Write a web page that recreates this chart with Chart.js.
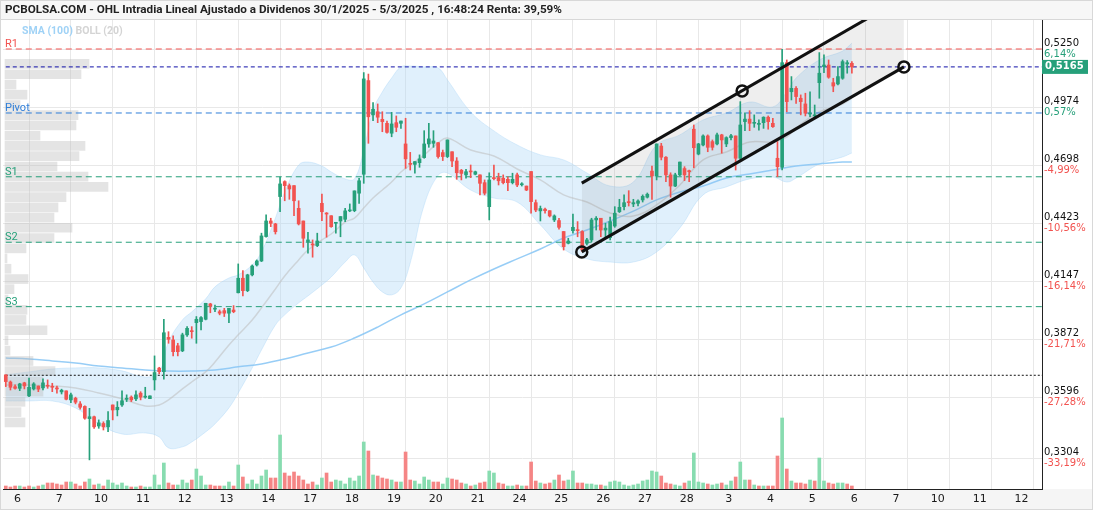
<!DOCTYPE html>
<html>
<head>
<meta charset="utf-8">
<title>OHL Intradia</title>
<script src="https://cdn.jsdelivr.net/npm/chart.js@4.4.1/dist/chart.umd.min.js"></script>
<style>
  html, body { margin: 0; padding: 0; background: #fff; }
  #wrap { width: 1096px; height: 512px; position: relative; }
</style>
</head>
<body>
<div id="wrap"><canvas id="chart"></canvas></div>
<script>
'use strict';

// day labels on the time axis (one per session, the last four are future days)
var dayLabels = ['6','7','10','11','12','13','14','17','18','19','20','21','24','25','26','27','28','3','4','5','6','7','10','11','12'];

// hourly candles
var opens = [
  0.3702,0.3668,0.3646,0.3638,0.3664,0.3602,0.3635,0.3649,0.3640,0.3651,
  0.3646,0.3640,0.3621,0.3626,0.3583,0.3591,0.3564,0.3552,0.3494,0.3503,
  0.3459,0.3471,0.3455,0.3559,0.3536,0.3559,0.3586,0.3596,0.3588,0.3615,
  0.3596,0.3589,0.3678,0.3734,0.3717,0.3880,0.3868,0.3840,0.3816,0.3892,
  0.3912,0.3950,0.3955,0.3966,0.4039,0.4014,0.4002,0.4007,0.3995,0.4010,
  0.4092,0.4161,0.4102,0.4177,0.4224,0.4243,0.4359,0.4433,0.4419,0.4549,
  0.4620,0.4601,0.4601,0.4493,0.4433,0.4335,0.4322,0.4316,0.4517,0.4470,
  0.4458,0.4422,0.4433,0.4441,0.4481,0.4482,0.4565,0.4655,0.5100,0.4937,
  0.4952,0.4916,0.4897,0.4850,0.4900,0.4897,0.4799,0.4704,0.4702,0.4710,
  0.4734,0.4799,0.4802,0.4805,0.4758,0.4739,0.4762,0.4718,0.4674,0.4652,
  0.4670,0.4655,0.4652,0.4615,0.4501,0.4639,0.4639,0.4636,0.4631,0.4615,
  0.4652,0.4605,0.4599,0.4668,0.4520,0.4481,0.4489,0.4482,0.4438,0.4435,
  0.4383,0.4327,0.4387,0.4390,0.4383,0.4327,0.4343,0.4438,0.4446,0.4390,
  0.4354,0.4409,0.4477,0.4501,0.4525,0.4514,0.4517,0.4533,0.4546,0.4670,
  0.4647,0.4789,0.4736,0.4652,0.4599,0.4652,0.4682,0.4672,0.4869,0.4751,
  0.4794,0.4837,0.4810,0.4799,0.4842,0.4799,0.4829,0.4837,0.4731,0.4905,
  0.4917,0.4897,0.4892,0.4900,0.4926,0.4897,0.4731,0.4688,0.5185,0.5047,
  0.5063,0.5016,0.4989,0.4941,0.4932,0.5090,0.5166,0.5174,0.5090,0.5084,
  0.5111,0.5179,0.5182
];
var highs = [
  0.3702,0.3673,0.3654,0.3662,0.3667,0.3687,0.3665,0.3649,0.3683,0.3678,
  0.3662,0.3649,0.3634,0.3626,0.3615,0.3596,0.3575,0.3555,0.3543,0.3506,
  0.3488,0.3479,0.3527,0.3559,0.3575,0.3626,0.3607,0.3602,0.3626,0.3622,
  0.3643,0.3602,0.3792,0.3738,0.3966,0.3907,0.3887,0.3852,0.3900,0.3931,
  0.3931,0.3979,0.3979,0.4042,0.4042,0.4034,0.4010,0.4018,0.4018,0.4031,
  0.4229,0.4197,0.4180,0.4224,0.4248,0.4375,0.4462,0.4446,0.4422,0.4641,
  0.4624,0.4609,0.4601,0.4529,0.4433,0.4379,0.4343,0.4375,0.4561,0.4473,
  0.4458,0.4425,0.4454,0.4493,0.4514,0.4576,0.4636,0.5138,0.5131,0.4995,
  0.4989,0.4952,0.4908,0.4949,0.4932,0.4908,0.4921,0.4759,0.4715,0.4747,
  0.4862,0.4897,0.4862,0.4805,0.4770,0.4818,0.4762,0.4734,0.4678,0.4678,
  0.4699,0.4670,0.4652,0.4628,0.4662,0.4699,0.4660,0.4652,0.4643,0.4660,
  0.4660,0.4615,0.4599,0.4668,0.4533,0.4504,0.4494,0.4482,0.4462,0.4446,
  0.4383,0.4351,0.4466,0.4430,0.4387,0.4351,0.4446,0.4454,0.4446,0.4422,
  0.4451,0.4501,0.4536,0.4557,0.4577,0.4536,0.4533,0.4557,0.4566,0.4694,
  0.4799,0.4802,0.4739,0.4662,0.4660,0.4713,0.4691,0.4675,0.4889,0.4802,
  0.4842,0.4842,0.4818,0.4850,0.4845,0.4833,0.4845,0.4837,0.5000,0.4947,
  0.4957,0.4937,0.4913,0.4928,0.4932,0.4921,0.4810,0.5249,0.5198,0.5119,
  0.5071,0.5032,0.5040,0.5047,0.4984,0.5233,0.5222,0.5198,0.5111,0.5166,
  0.5198,0.5195,0.5190
];
var lows = [
  0.3646,0.3630,0.3634,0.3627,0.3635,0.3598,0.3630,0.3622,0.3630,0.3638,
  0.3622,0.3615,0.3611,0.3583,0.3570,0.3564,0.3539,0.3491,0.3298,0.3448,
  0.3448,0.3440,0.3432,0.3488,0.3507,0.3552,0.3575,0.3575,0.3579,0.3583,
  0.3591,0.3589,0.3630,0.3707,0.3681,0.3852,0.3792,0.3792,0.3812,0.3884,
  0.3876,0.3852,0.3915,0.3963,0.3997,0.4002,0.3987,0.3979,0.3950,0.3997,
  0.4091,0.4077,0.4097,0.4172,0.4219,0.4240,0.4356,0.4406,0.4371,0.4477,
  0.4529,0.4536,0.4458,0.4414,0.4308,0.4280,0.4261,0.4311,0.4434,0.4356,
  0.4403,0.4375,0.4358,0.4430,0.4477,0.4477,0.4517,0.4612,0.4802,0.4910,
  0.4900,0.4857,0.4850,0.4833,0.4857,0.4873,0.4683,0.4675,0.4660,0.4688,
  0.4731,0.4783,0.4783,0.4731,0.4720,0.4734,0.4691,0.4631,0.4628,0.4636,
  0.4639,0.4652,0.4557,0.4557,0.4438,0.4628,0.4604,0.4609,0.4577,0.4609,
  0.4596,0.4599,0.4577,0.4470,0.4477,0.4433,0.4470,0.4452,0.4430,0.4394,
  0.4295,0.4324,0.4375,0.4358,0.4287,0.4319,0.4335,0.4390,0.4358,0.4351,
  0.4343,0.4403,0.4473,0.4485,0.4504,0.4501,0.4504,0.4523,0.4542,0.4536,
  0.4628,0.4723,0.4620,0.4546,0.4596,0.4648,0.4625,0.4620,0.4686,0.4747,
  0.4789,0.4762,0.4770,0.4794,0.4755,0.4786,0.4818,0.4675,0.4726,0.4862,
  0.4862,0.4878,0.4865,0.4873,0.4869,0.4878,0.4643,0.4675,0.4952,0.5008,
  0.4992,0.4937,0.4932,0.4929,0.4921,0.5016,0.5138,0.5111,0.5047,0.5079,
  0.5106,0.5135,0.5135
];
var closes = [
  0.3670,0.3643,0.3638,0.3659,0.3649,0.3643,0.3659,0.3634,0.3664,0.3648,
  0.3643,0.3635,0.3629,0.3586,0.3607,0.3572,0.3548,0.3496,0.3503,0.3455,
  0.3474,0.3455,0.3485,0.3535,0.3548,0.3579,0.3591,0.3583,0.3607,0.3596,
  0.3599,0.3602,0.3713,0.3717,0.3902,0.3871,0.3812,0.3812,0.3892,0.3923,
  0.3907,0.3966,0.3974,0.4042,0.4029,0.4018,0.3995,0.3995,0.4018,0.4002,
  0.4161,0.4102,0.4177,0.4219,0.4243,0.4362,0.4433,0.4422,0.4382,0.4609,
  0.4601,0.4585,0.4529,0.4419,0.4351,0.4343,0.4319,0.4338,0.4477,0.4466,
  0.4406,0.4425,0.4454,0.4481,0.4485,0.4576,0.4624,0.5108,0.4928,0.4964,
  0.4926,0.4905,0.4854,0.4894,0.4878,0.4908,0.4728,0.4702,0.4715,0.4728,
  0.4799,0.4823,0.4813,0.4739,0.4739,0.4818,0.4718,0.4662,0.4659,0.4667,
  0.4666,0.4667,0.4612,0.4565,0.4628,0.4634,0.4624,0.4615,0.4615,0.4631,
  0.4604,0.4609,0.4580,0.4525,0.4485,0.4492,0.4482,0.4457,0.4457,0.4403,
  0.4311,0.4338,0.4403,0.4387,0.4295,0.4343,0.4438,0.4446,0.4390,0.4399,
  0.4430,0.4470,0.4498,0.4520,0.4520,0.4520,0.4528,0.4550,0.4560,0.4647,
  0.4799,0.4736,0.4652,0.4599,0.4652,0.4713,0.4652,0.4667,0.4781,0.4799,
  0.4837,0.4783,0.4783,0.4842,0.4818,0.4829,0.4838,0.4731,0.4889,0.4917,
  0.4897,0.4900,0.4897,0.4926,0.4905,0.4881,0.4691,0.5185,0.5000,0.5063,
  0.5024,0.5000,0.4945,0.4945,0.4937,0.5135,0.5174,0.5116,0.5074,0.5119,
  0.5190,0.5185,0.5165
];
var volumes = [
  3,2,3,3,2,
  3,2,3,4,6,6,5,4,7,
  7,5,3,7,10,4,5,3,9,
  6,4,6,3,2,2,3,2,2,
  14,4,26,6,4,4,9,6,9,
  20,13,4,4,3,3,3,7,3,
  24,12,5,9,5,13,19,11,11,
  54,16,13,17,13,9,5,7,4,
  11,16,7,9,8,5,11,8,13,
  47,38,14,13,11,10,9,7,7,
  37,9,8,5,12,9,7,7,5,
  11,10,9,6,5,3,4,6,7,
  18,16,6,5,3,3,4,3,3,
  27,8,6,5,6,9,14,8,9,
  18,6,6,5,5,4,4,3,7,
  8,7,4,3,4,5,8,9,18,
  17,13,6,5,4,3,6,8,36,
  7,6,5,4,5,6,4,8,12,
  27,9,9,4,3,3,3,3,33,
  71,20,8,6,6,5,9,8,31,
  8,6,5,6,6,5,3
];

// Bollinger (20) read at these candle positions
var bandIdx = [0,5,10,15,20,25,30,33,35,38,40,43,45,48,50,53,55,58,60,63,65,68,70,73,75,77,79,81,83,85,87,90,93,95,
  100,105,110,115,120,125,130,135,140,145,150,155,160,165,168,170,175,180,182];
var bandUpper = [0.3702,0.3716,0.3730,0.3735,0.3735,0.3721,0.3692,0.3716,0.3858,0.3963,0.4001,0.4063,0.4120,0.4162,0.4177,
  0.4224,0.4286,0.4447,0.4571,0.4699,0.4713,0.4694,0.4666,0.4633,0.4633,0.4770,0.4960,0.5046,0.5112,0.5165,0.5169,
  0.5165,0.5160,0.5103,0.4951,0.4861,0.4794,0.4747,0.4723,0.4661,0.4599,0.4618,0.4794,0.4842,0.4913,0.4946,0.4998,
  0.4975,0.5046,0.5112,0.5198,0.5240,0.5278];
var bandLower = [0.3578,0.3578,0.3578,0.3545,0.3469,0.3421,0.3426,0.3407,0.3355,0.3360,0.3383,0.3431,0.3469,0.3545,0.3616,
  0.3735,0.3820,0.3939,0.3987,0.4044,0.4077,0.4129,0.4167,0.4238,0.4272,0.4210,0.4143,0.4096,0.4082,0.4115,0.4234,
  0.4509,0.4650,0.4661,0.4580,0.4542,0.4523,0.4414,0.4300,0.4253,0.4238,0.4238,0.4286,0.4400,0.4557,0.4595,0.4633,
  0.4642,0.4618,0.4637,0.4704,0.4737,0.4756];
var bandMid = [0.3654,0.3654,0.3649,0.3640,0.3616,0.3588,0.3554,0.3559,0.3583,0.3635,0.3668,0.3716,0.3763,0.3844,0.3892,
  0.3963,0.4020,0.4110,0.4172,0.4248,0.4295,0.4343,0.4371,0.4428,0.4447,0.4495,0.4542,0.4580,0.4618,0.4666,0.4699,
  0.4747,0.4804,0.4827,0.4770,0.4742,0.4680,0.4628,0.4557,0.4523,0.4471,0.4457,0.4509,0.4604,0.4723,0.4761,0.4808,
  0.4808,0.4832,0.4875,0.4951,0.4989,0.5017];

// SMA (100)
var smaIdx = [0,5,10,15,20,25,30,35,40,45,50,55,60,65,70,75,80,85,90,95,100,105,110,115,120,125,130,135,140,145,150,155,160,165,170,175,180,182];
var sma100 = [0.3782,0.3777,0.3768,0.3758,0.3744,0.3735,0.3725,0.3720,0.3720,0.3725,0.3740,0.3754,0.3777,0.3806,0.3834,
  0.3877,0.3929,0.3987,0.4039,0.4096,0.4153,0.4205,0.4253,0.4300,0.4352,0.4390,0.4433,0.4480,0.4533,0.4571,0.4599,
  0.4637,0.4656,0.4675,0.4694,0.4704,0.4713,0.4713];

// volume at price (left side)
var profilePrices = [0.5179,0.5130,0.5081,0.5033,0.4984,0.4936,0.4887,0.4838,0.4790,0.4741,0.4692,0.4644,0.4595,0.4546,
  0.4498,0.4449,0.4401,0.4352,0.4303,0.4255,0.4206,0.4157,0.4109,0.4060,0.4011,0.3963,0.3914,0.3866,0.3817,0.3768,
  0.3720,0.3671,0.3622,0.3574,0.3525,0.3476];
var profileVol = [84,76,11,22,15,73,71,35,80,74,52,83,103,61,53,49,67,49,21,2,6,23,9,3,22,21,42,3,5,28,50,38,38,20,16,20];

// pivot levels
var levelNames = ['R1', 'Pivot', 'S1', 'S2', 'S3'];
var levelValues = [0.5250, 0.4946, 0.4643, 0.4332, 0.4026];
var lastPrice = 0.5165;
var startPrice = 0.3700;

// drawn channel (x in candle positions)
var channelIdx = [123.9, 193.2];
var channelUpper = [0.4613, 0.5495];
var channelLower = [0.4286, 0.5165];
var anchorIdx = [123.9, 158.4, 193.2];
var anchorPrice = [0.4286, 0.5051, 0.5165];

// right axis
var priceTicks = [0.5250, 0.4974, 0.4698, 0.4423, 0.4147, 0.3872, 0.3596, 0.3304];
var pctTicks = ['6,14%', '0,57%', '-4,99%', '-10,56%', '-16,14%', '-21,71%', '-27,28%', '-33,19%'];

var GREEN = '#26a07a';
var RED = '#f25350';
var X_MAX = 222.9;

var pts = function(xs, ys) {
  return xs.map(function(x, i) { return {x: x, y: ys[i]}; });
};
var flat = function(v) {
  return [{x: 0, y: v}, {x: X_MAX, y: v}];
};

var candleColors = closes.map(function(c, i) { return c >= opens[i] ? GREEN : RED; });
var volColors = volumes.map(function(v, i) {
  var prev = i === 0 ? opens[0] : closes[i - 1];
  return closes[i] >= prev ? '#88dcb0' : '#f58585';
});

var levelColors = [RED, '#2f7ed8', GREEN, GREEN, GREEN];

var levelSets = levelValues.map(function(v, i) {
  return {
    type: 'line', data: flat(v), borderColor: levelColors[i], borderWidth: 1,
    borderDash: [6, 4], pointRadius: 0, fill: false, order: 8
  };
});

var decorations = {
  id: 'decorations',
  beforeDraw: function(chart) {
    var ctx = chart.ctx, a = chart.chartArea;
    ctx.save();
    ctx.fillStyle = '#f7f7f7';
    ctx.fillRect(0, 0, 1093, 19);
    ctx.fillStyle = '#f5f5f5';
    ctx.fillRect(0, a.bottom, 1093, 21);
    ctx.strokeStyle = '#d8d8d8';
    ctx.lineWidth = 1;
    ctx.strokeRect(0.5, 0.5, 1092, 509);
    ctx.beginPath();
    ctx.moveTo(0, 19.5);
    ctx.lineTo(1093, 19.5);
    ctx.stroke();
    ctx.restore();
  },
  afterDatasetsDraw: function(chart) {
    var ctx = chart.ctx, ys = chart.scales.y;
    ctx.save();
    ctx.font = '11px Roboto';
    ctx.textAlign = 'left';
    ctx.textBaseline = 'alphabetic';
    levelNames.forEach(function(name, i) {
      ctx.fillStyle = levelColors[i];
      ctx.fillText(name, 5, ys.getPixelForValue(levelValues[i]) - 2);
    });
    ctx.restore();
  },
  afterDraw: function(chart) {
    var ctx = chart.ctx, ys = chart.scales.y, a = chart.chartArea;
    ctx.save();
    ctx.textBaseline = 'middle';
    ctx.textAlign = 'left';
    ctx.fillStyle = '#222';
    ctx.font = 'bold 11.7px Roboto';
    ctx.fillText('PCBOLSA.COM - OHL Intradia Lineal Ajustado a Dividenos 30/1/2025 - 5/3/2025 , 16:48:24 Renta: 39,59%', 5, 10);

    ctx.font = 'bold 10.5px Roboto';
    ctx.fillStyle = '#9fd2f6';
    ctx.fillText('SMA (100)', 22, 31);
    var w = ctx.measureText('SMA (100) ').width;
    ctx.fillStyle = '#d4d4d4';
    ctx.fillText('BOLL (20)', 22 + w, 31);

    ctx.font = '10px "DejaVu Sans"';
    priceTicks.forEach(function(v, i) {
      ctx.fillStyle = pctTicks[i].charAt(0) === '-' ? RED : GREEN;
      ctx.fillText(pctTicks[i], a.right + 2, ys.getPixelForValue(v) + 5);
    });

    var py = ys.getPixelForValue(lastPrice);
    ctx.fillStyle = GREEN;
    ctx.fillRect(a.right, py - 7, 46, 14);
    ctx.fillStyle = '#fff';
    ctx.font = 'bold 10px "DejaVu Sans"';
    ctx.fillText('0,5165', a.right + 3, py);
    ctx.restore();
  }
};

var ctx = document.getElementById('chart').getContext('2d');
var chart = new Chart(ctx, {
  type: 'bar',
  data: {
    datasets: [
      { type: 'line', data: pts(bandIdx, bandUpper), borderColor: 'rgba(160,210,245,0.35)', borderWidth: 1,
        pointRadius: 0, tension: 0.4, fill: false, order: 12 },
      { type: 'line', data: pts(bandIdx, bandLower), borderColor: 'rgba(160,210,245,0.35)', borderWidth: 1,
        pointRadius: 0, tension: 0.4, fill: '-1', backgroundColor: 'rgba(178,218,248,0.4)', order: 12 },
      { type: 'line', data: pts(bandIdx, bandMid), borderColor: 'rgba(190,190,190,0.55)', borderWidth: 1.5,
        pointRadius: 0, tension: 0.4, fill: false, order: 11 },
      { type: 'line', data: pts(smaIdx, sma100), borderColor: 'rgba(140,200,245,0.9)', borderWidth: 1.5,
        pointRadius: 0, tension: 0.4, fill: false, order: 11 },
      { type: 'bar', indexAxis: 'y', xAxisID: 'xvp', yAxisID: 'y', data: pts(profileVol, profilePrices),
        backgroundColor: 'rgba(185,185,185,0.38)', barThickness: 9, grouped: false, order: 10 },
      { type: 'line', data: pts(channelIdx, channelUpper), borderWidth: 0, pointRadius: 0, fill: false, order: 9 },
      { type: 'line', data: pts(channelIdx, channelLower), borderWidth: 0, pointRadius: 0,
        fill: '-1', backgroundColor: 'rgba(120,120,120,0.13)', order: 9 }
    ].concat(levelSets).concat([
      { type: 'line', data: flat(lastPrice), borderColor: '#1010a8', borderWidth: 1, borderDash: [4, 3],
        pointRadius: 0, fill: false, order: 8 },
      { type: 'line', data: flat(startPrice), borderColor: '#111', borderWidth: 1, borderDash: [2, 2],
        pointRadius: 0, fill: false, order: 8 },
      { type: 'bar', yAxisID: 'yv', data: pts(volumes.map(function(v, i) { return i; }), volumes),
        backgroundColor: volColors, barThickness: 3, grouped: false, order: 7 },
      { type: 'bar', data: lows.map(function(l, i) { return {x: i, y: [l, highs[i]]}; }),
        backgroundColor: candleColors, barThickness: 1, grouped: false, minBarLength: 1, order: 5 },
      { type: 'bar', data: opens.map(function(o, i) { return {x: i, y: [o, closes[i]]}; }),
        backgroundColor: candleColors, barThickness: 3, grouped: false, minBarLength: 1, order: 4 },
      { type: 'line', data: pts(channelIdx, channelUpper), borderColor: '#111', borderWidth: 3,
        pointRadius: 0, fill: false, order: 2 },
      { type: 'line', data: pts(channelIdx, channelLower), borderColor: '#111', borderWidth: 3,
        pointRadius: 0, fill: false, order: 2 },
      { type: 'scatter', data: pts(anchorIdx, anchorPrice), showLine: false, pointRadius: 5.5,
        pointBorderWidth: 2.5, pointBorderColor: '#111', pointBackgroundColor: 'rgba(255,255,255,0)', order: 1 }
    ])
  },
  options: {
    responsive: true,
    maintainAspectRatio: false,
    animation: false,
    devicePixelRatio: 1,
    events: [],
    layout: { autoPadding: false, padding: { top: 20, left: 3, right: 0, bottom: 0 } },
    plugins: { legend: { display: false }, tooltip: { enabled: false } },
    scales: {
      x: {
        type: 'linear', position: 'bottom', min: -0.6, max: X_MAX, offset: false,
        afterBuildTicks: function(scale) {
          var t = [];
          for (var k = 0; k < dayLabels.length; k++) {
            t.push({value: 2.5 + 9 * k});
            t.push({value: 5 + 9 * k});
          }
          scale.ticks = t;
        },
        afterFit: function(scale) { scale.height = 23; },
        grid: {
          drawTicks: false, offset: false,
          color: function(c) {
            return c.tick && Number.isInteger((c.tick.value - 5) / 9) ? '#e8e8e8' : 'rgba(0,0,0,0)';
          }
        },
        border: { color: '#222', width: 1 },
        ticks: {
          autoSkip: false, maxRotation: 0, padding: 4, color: '#1a1a1a',
          font: { family: 'DejaVu Sans', size: 11 },
          callback: function(v) {
            var k = (v - 2.5) / 9;
            return Number.isInteger(k) ? dayLabels[k] : '';
          }
        }
      },
      y: {
        type: 'linear', position: 'right', min: 0.31597, max: 0.53878, offset: false,
        afterBuildTicks: function(scale) {
          scale.ticks = priceTicks.map(function(v) { return {value: v}; });
        },
        afterFit: function(scale) { scale.width = 54; },
        grid: { color: '#e8e8e8', drawTicks: false, offset: false },
        border: { color: '#222', width: 1 },
        ticks: {
          padding: 2, labelOffset: -6, color: '#111',
          font: { family: 'DejaVu Sans', size: 10 },
          callback: function(v) { return v.toFixed(4).replace('.', ','); }
        }
      },
      yv: { type: 'linear', display: false, min: 0, max: 469, offset: false },
      xvp: { type: 'linear', display: false, min: -2, max: 1037, offset: false }
    }
  },
  plugins: [decorations]
});
</script>
</body>
</html>
